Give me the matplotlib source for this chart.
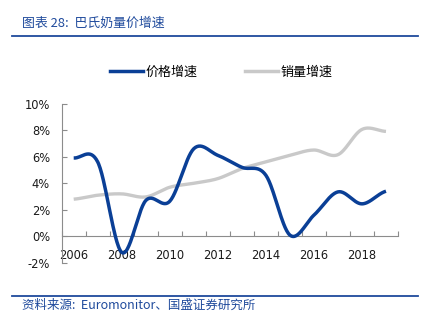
import numpy as np
import matplotlib
matplotlib.use("Agg")
import matplotlib.pyplot as plt
from matplotlib.ticker import FuncFormatter, FixedLocator
from matplotlib.lines import Line2D

plt.rcParams['font.family'] = ['Noto Sans CJK SC', 'DejaVu Sans']

years = [2006, 2007, 2008, 2009, 2010, 2011, 2012, 2013, 2014, 2015, 2016, 2017, 2018, 2019]
price_growth = [5.9, 5.6, -1.2, 2.7, 2.65, 6.6, 6.1, 5.2, 4.6, 0.1, 1.6, 3.35, 2.45, 3.4]
volume_growth = [2.8, 3.1, 3.2, 2.97, 3.7, 4.0, 4.35, 5.1, 5.6, 6.1, 6.5, 6.15, 8.05, 7.9]
tick_labels = ['2006', '2008', '2010', '2012', '2014', '2016', '2018']
series_names = ['价格增速', '销量增速']
title = '图表 28:  巴氏奶量价增速'
source = '资料来源:  Euromonitor、国盛证券研究所'

BLUE = '#0a3f96'
GRAY = '#c9c9c9'
TXT = '#1f4a9c'
NUMFONT = ['DejaVu Sans']


def smooth(y, n=30):
    y = np.asarray(y, dtype=float) / 100.0
    k = len(y)
    m = np.zeros(k)
    m[1:-1] = (y[2:] - y[:-2]) / 2.0
    m[0] = (y[1] - y[0]) / 2.0
    m[-1] = (y[-1] - y[-2]) / 2.0
    xs, ys = [], []
    t = np.linspace(0, 1, n, endpoint=False)
    for i in range(k - 1):
        h00 = 2 * t**3 - 3 * t**2 + 1
        h10 = t**3 - 2 * t**2 + t
        h01 = -2 * t**3 + 3 * t**2
        h11 = t**3 - t**2
        ys.append(h00 * y[i] + h10 * m[i] + h01 * y[i + 1] + h11 * m[i + 1])
        xs.append(i + t)
    xs.append(np.array([k - 1.0]))
    ys.append(np.array([y[-1]]))
    return np.concatenate(xs), np.concatenate(ys)


W, H = 429, 328
fig = plt.figure(figsize=(W / 100, H / 100), dpi=100)
ax = fig.add_axes([61.7 / W, 1 - 263 / H, (398 - 61.7) / W, (263 - 103.5) / H])

xb, yb = smooth(price_growth)
xg, yg = smooth(volume_growth)
ax.plot(xg, yg, color=GRAY, lw=2.4, solid_capstyle='butt', label=series_names[1], zorder=2)
ax.plot(xb, yb, color=BLUE, lw=2.5, solid_capstyle='butt', label=series_names[0], zorder=3)

n = len(years)
ax.set_xlim(-0.5, n - 0.5)
ax.set_ylim(-0.02, 0.10)
ax.spines['top'].set_visible(False)
ax.spines['right'].set_visible(False)
ax.spines['bottom'].set_position(('data', 0))
for s in ('left', 'bottom'):
    ax.spines[s].set_color('#8c8c8c')
    ax.spines[s].set_linewidth(0.8)

ax.xaxis.set_major_locator(FixedLocator(np.arange(-0.5, n, 1.0)))
ax.xaxis.set_major_formatter(FuncFormatter(lambda v, p: ''))
label_pos = [years.index(int(t)) for t in tick_labels]
ax.xaxis.set_minor_locator(FixedLocator(label_pos))
ax.xaxis.set_minor_formatter(FuncFormatter(lambda v, p: tick_labels[label_pos.index(int(round(v)))]))
ax.tick_params(axis='x', which='major', direction='in', length=3.5, color='#8c8c8c', width=0.8)
ax.tick_params(axis='x', which='minor', length=0, pad=9, labelsize=8.3, labelcolor='#1a1a1a')

ax.set_yticks(np.arange(-0.02, 0.1001, 0.02))
ax.yaxis.set_major_formatter(FuncFormatter(lambda v, p: f'{v*100:.0f}%'))
ax.tick_params(axis='y', direction='in', length=3.5, color='#8c8c8c', width=0.8, pad=8.5,
               labelsize=8.3, labelcolor='#1a1a1a')
for lab in ax.get_xticklabels(minor=True) + ax.get_yticklabels():
    lab.set_family(NUMFONT)

handles = [Line2D([], [], color=BLUE, lw=2.5), Line2D([], [], color=GRAY, lw=2.5)]
fig.legend(handles, series_names, loc='center', bbox_to_anchor=(221 / W, 1 - 72 / H), ncol=2,
           frameon=False, fontsize=9.4, handlelength=2.55, handletextpad=0.2, columnspacing=3.6,
           borderpad=0, borderaxespad=0)

fig.text(22 / W, 1 - 23 / H, title, fontsize=9.3, color=TXT, va='center', ha='left', style='italic')
fig.add_artist(Line2D([12 / W, 418 / W], [1 - 36 / H, 1 - 36 / H], color='#1f4a9c', lw=1.3))
fig.add_artist(Line2D([12 / W, 418 / W], [1 - 296 / H, 1 - 296 / H], color='#1f4a9c', lw=1.3))
fig.text(22 / W, 1 - 305 / H, source, fontsize=9, color=TXT, va='center', ha='left', style='italic')

fig.savefig('out.png', dpi=100)
